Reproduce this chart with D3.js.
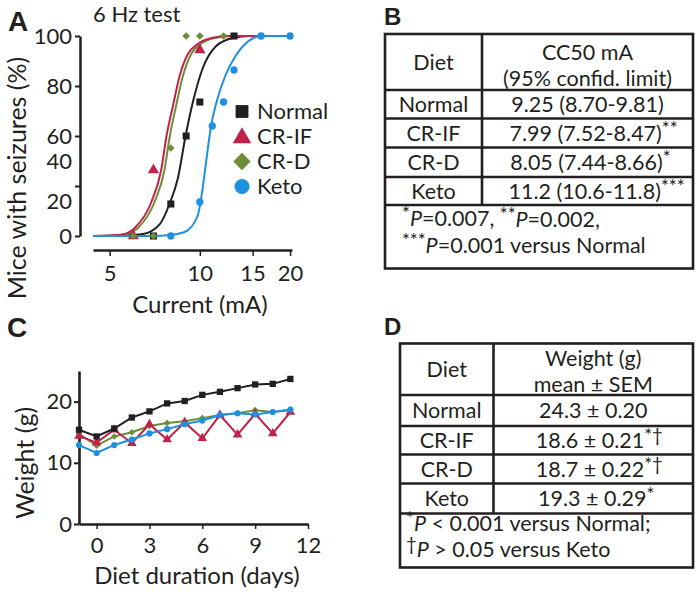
<!DOCTYPE html>
<html><head><meta charset="utf-8">
<script src="https://cdn.jsdelivr.net/npm/d3@7"></script>
<style>
body{margin:0;background:#fff}
svg{display:block}
text{font-family:Lato,"Noto Sans",sans-serif;fill:#231f20}
</style>
</head><body>
<svg id="fig" width="700" height="594"></svg>
<script>
// ---------- DATA ----------
const diets = ["Normal", "CR-IF", "CR-D", "Keto"];
const dietColors = ["#231f20", "#c1224a", "#6b8e36", "#1f8fe0"];
const dietSymbols = ["square", "triangle", "diamond", "circle"];

// Panel A: observed points [current mA, % mice with seizures]
const seizNormal = [[7, 0], [8, 16], [9, 50], [10, 67], [13, 100]];
const seizCRIF = [[6, 0], [7, 33], [10, 93]];
const seizCRD = [[6, 0], [7, 0], [8, 44], [9, 100], [10, 100], [12, 100]];
const seizKeto = [[8, 0], [10, 17], [11, 55], [12, 67], [13, 83], [16, 100], [20, 100]];

// Panel A: fitted curves [mA, %]
const fitNormal = [[4.4, 0], [5.6, 0.3], [6.46, 1], [7.34, 5.8], [7.92, 16], [8.45, 29], [8.96, 50], [9.48, 67], [10.23, 84], [11.34, 95], [12.88, 99], [14.6, 100], [20, 100]];
const fitCRIF = [[4.4, 0], [5.0, 0.2], [5.61, 1], [6.06, 4], [6.89, 17], [7.43, 33], [7.74, 50], [8.13, 65], [8.56, 80], [9.12, 91], [9.83, 96], [10.94, 99], [12.56, 100], [20, 100]];
const fitCRD = [[4.4, 0], [5.2, 0.2], [5.74, 1], [6.21, 4], [7.06, 17], [7.62, 33], [7.94, 50], [8.33, 65], [8.78, 80], [9.35, 91], [10.06, 96], [11.2, 99], [12.9, 100], [20, 100]];
const fitKeto = [[4.4, 0], [7.0, 0], [7.92, 0.5], [8.9, 2], [9.83, 10], [10.13, 20], [10.45, 35], [10.9, 55], [11.37, 67], [12.15, 80], [13.15, 90], [14.4, 97], [16.0, 100], [20, 100]];

const aXTicks = [5, 10, 15, 20];
const aYTickMarks = [0, 25, 50, 75, 100];
const aYTickLabels = ["100", "80", "60", "40", "20", "0"];
const aYTickLabelAt = [100, 75, 50, 37.5, 17.5, 0];   // where each label sits on the value axis

// Panel C: body weight (g) by day
const days = [-1, 0, 1, 2, 3, 4, 5, 6, 7, 8, 9, 10, 11];
const weightNormal = [15.4, 14.3, 15.6, 17.4, 18.4, 19.7, 20.1, 21.1, 21.6, 22.2, 22.8, 22.9, 23.7];
const weightCRIF = [14.4, 13.3, 15.4, 13.2, 16.3, 13.8, 16.6, 14.0, 17.8, 14.6, 18.0, 14.8, 18.3];
const weightCRD = [14.7, 12.8, 14.3, 15.0, 16.0, 16.5, 16.8, 17.3, 17.8, 18.1, 18.6, 18.3, 18.6];
const weightKeto = [12.9, 11.6, 12.9, 13.8, 14.8, 15.5, 16.3, 16.9, 17.8, 18.1, 17.9, 18.3, 18.7];
const cXTicks = [0, 3, 6, 9, 12];
const cYTicks = [0, 10, 20];

// Panel B table
const cc50Value = ["9.25 (8.70-9.81)", "7.99 (7.52-8.47)", "8.05 (7.44-8.66)", "11.2 (10.6-11.8)"];
const cc50Mark = ["", "**", "*", "***"];
// Panel D table
const weightValue = ["24.3 \u00b1 0.20", "18.6 \u00b1 0.21", "18.7 \u00b1 0.22", "19.3 \u00b1 0.29"];
const weightMark = ["", "*\u2020", "*\u2020", "*"];

// ---------- DRAW ----------
const svg = d3.select("#fig");
const INK = "#231f20";
const FS = 22;     // tick labels
const FT = 24;     // axis titles

function sym(type, size) {
  const t = {square: d3.symbolSquare, triangle: d3.symbolTriangle, diamond: d3.symbolSquare, circle: d3.symbolCircle}[type];
  return d3.symbol().type(t).size(size)();
}
function drawMarker(g, type, x, y, size, color) {
  g.append("path").attr("d", sym(type, size))
    .attr("transform", `translate(${x},${y})` + (type === "diamond" ? " rotate(45)" : ""))
    .attr("fill", color);
}
function panelLetter(x, y, s, size) {
  svg.append("text").attr("x", x).attr("y", y).text(s)
    .style("font-family", "'Liberation Sans',Arial,sans-serif").style("font-weight", "bold")
    .style("font-size", size + "px");
}

// ===== Panel A =====
const xA = d3.scaleLog().domain([4.4, 20.3]).range([93, 292]);
const yA = d3.scaleLinear().domain([0, 100]).range([236, 36]);
const gA = svg.append("g");
panelLetter(8, 31, "A", 28);
gA.append("text").attr("x", 93).attr("y", 22).text("6 Hz test").style("font-size", "22px");

// y axis (marks only) + labels
const yAxisA = d3.axisLeft(yA).tickValues(aYTickMarks).tickSize(5).tickSizeOuter(0).tickFormat("");
const gyA = gA.append("g").attr("transform", "translate(80,0)").call(yAxisA);
gyA.select(".domain").attr("stroke", INK).attr("stroke-width", 2.5);
gyA.selectAll(".tick line").attr("stroke", INK).attr("stroke-width", 2);
gA.selectAll("text.ylabA").data(aYTickLabels).enter().append("text")
  .attr("x", 72).attr("y", (d, i) => yA(aYTickLabelAt[i]))
  .attr("dy", "0.36em").attr("text-anchor", "end").style("font-size", FS + "px").text(d => d);

// x axis
const xAxisA = d3.axisBottom(xA).tickValues(aXTicks).tickSize(6).tickSizeOuter(0).tickFormat(d3.format("d"));
const gxA = gA.append("g").attr("transform", "translate(0,250)").call(xAxisA);
gxA.select(".domain").attr("stroke", INK).attr("stroke-width", 2.5);
gxA.selectAll(".tick line").attr("stroke", INK).attr("stroke-width", 1.5);
gxA.selectAll(".tick text").attr("y", 11).attr("dy", "0.9em").style("font-size", FS + "px")
  .style("font-family", "Lato,'Noto Sans',sans-serif").attr("fill", INK);

gA.append("text").attr("x", 200).attr("y", 313).attr("text-anchor", "middle").style("font-size", FT + "px").text("Current (mA)");
gA.append("text").attr("transform", "translate(26,178) rotate(-90)").attr("text-anchor", "middle")
  .style("font-size", "25px").text("Mice with seizures (%)");

const lineA = d3.line().x(d => xA(d[0])).y(d => yA(d[1])).curve(d3.curveMonotoneX);
const fits = [fitNormal, fitCRIF, fitCRD, fitKeto];
[0, 2, 1, 3].forEach(i => {
  gA.append("path").datum(fits[i]).attr("d", lineA).attr("fill", "none")
    .attr("stroke", dietColors[i]).attr("stroke-width", 2);
});
const seiz = [seizNormal, seizCRIF, seizCRD, seizKeto];
const aSizes = [50, 55, 30, 42];
seiz.forEach((pts, i) => {
  pts.forEach(p => drawMarker(gA, dietSymbols[i], xA(p[0]), yA(p[1]), aSizes[i], dietColors[i]));
});

// legend
const legSizes = [165, 150, 150, 180];
const legY = [111.5, 136.5, 161.5, 186.5];
diets.forEach((d, i) => {
  drawMarker(gA, dietSymbols[i], 242, legY[i] + (dietSymbols[i] === "triangle" ? 1.5 : 0), legSizes[i], dietColors[i]);
  gA.append("text").attr("x", 257).attr("y", legY[i]).attr("dy", "0.35em").style("font-size", "22px").text(d);
});

// ===== Panel C =====
const xC = d3.scaleLinear().domain([-1, 12]).range([79, 308]);
const yC = d3.scaleLinear().domain([0, 25]).range([524, 371]);
const gC = svg.append("g");
panelLetter(7, 337, "C", 28);
const gyC = gC.append("g").attr("transform", "translate(79,0)")
  .call(d3.axisLeft(yC).tickValues(cYTicks).tickSize(5).tickSizeOuter(0));
gyC.select(".domain").attr("stroke", INK).attr("stroke-width", 2.6);
gyC.selectAll(".tick line").attr("stroke", INK).attr("stroke-width", 2);
gyC.selectAll(".tick text").attr("x", -7).style("font-size", FS + "px")
  .style("font-family", "Lato,'Noto Sans',sans-serif").attr("fill", INK);
const gxC = gC.append("g").attr("transform", "translate(0,524)")
  .call(d3.axisBottom(xC).tickValues(cXTicks).tickSize(5).tickSizeOuter(0));
gxC.select(".domain").attr("stroke", INK).attr("stroke-width", 2.6);
gxC.selectAll(".tick line").attr("stroke", INK).attr("stroke-width", 1.5);
gxC.selectAll(".tick text").attr("y", 9).attr("dy", "0.9em").style("font-size", FS + "px")
  .style("font-family", "Lato,'Noto Sans',sans-serif").attr("fill", INK);
gC.append("text").attr("x", 197).attr("y", 584).attr("text-anchor", "middle").style("font-size", FT + "px").text("Diet duration (days)");
gC.append("text").attr("transform", "translate(34,463) rotate(-90)").attr("text-anchor", "middle")
  .style("font-size", "25px").text("Weight (g)");

const weights = [weightNormal, weightCRIF, weightCRD, weightKeto];
const lineC = d3.line().x((d, i) => xC(days[i])).y(d => yC(d));
const cSizes = [40, 40, 22, 30];
[2, 1, 3, 0].forEach(i => {
  gC.append("path").datum(weights[i]).attr("d", lineC).attr("fill", "none")
    .attr("stroke", dietColors[i]).attr("stroke-width", 2);
  weights[i].forEach((w, j) => drawMarker(gC, dietSymbols[i], xC(days[j]), yC(w), cSizes[i], dietColors[i]));
});

// ===== Tables =====
function table(opts) {
  const g = svg.append("g");
  const {left, right, div, rows} = opts;
  const sw = 2.6;
  g.append("rect").attr("x", left).attr("y", rows[0]).attr("width", right - left)
    .attr("height", rows[rows.length - 1] - rows[0]).attr("fill", "none").attr("stroke", INK).attr("stroke-width", sw);
  rows.slice(1, -1).forEach(y => g.append("line").attr("x1", left).attr("x2", right).attr("y1", y).attr("y2", y)
    .attr("stroke", INK).attr("stroke-width", sw));
  g.append("line").attr("x1", div).attr("x2", div).attr("y1", rows[0]).attr("y2", rows[rows.length - 2])
    .attr("stroke", INK).attr("stroke-width", sw);
  const cL = (left + div) / 2, cR = (div + right) / 2;
  g.append("text").attr("x", cL).attr("y", (rows[0] + rows[1]) / 2).attr("dy", "0.36em")
    .attr("text-anchor", "middle").style("font-size", opts.fs + "px").text("Diet");
  opts.head.forEach((h, k) => g.append("text").attr("x", cR).attr("y", opts.headY[k]).attr("dy", "0.36em")
    .attr("text-anchor", "middle").style("font-size", opts.fs + "px").text(h));
  diets.forEach((d, i) => {
    const yc = (rows[i + 1] + rows[i + 2]) / 2;
    g.append("text").attr("x", cL).attr("y", yc).attr("dy", "0.36em").attr("text-anchor", "middle")
      .style("font-size", opts.fs + "px").text(d);
    const t = g.append("text").attr("x", cR + (opts.marks[i] ? opts.markShift * opts.marks[i].length : 0))
      .attr("y", yc).attr("dy", "0.36em").attr("text-anchor", "middle").style("font-size", opts.fs + "px");
    t.append("tspan").text(opts.values[i]);
    if (opts.marks[i]) t.append("tspan").attr("dy", "-0.3em").style("font-size", (opts.fs - 3) + "px").text(opts.marks[i]);
  });
  opts.foot.forEach((line, k) => {
    const t = g.append("text").attr("x", opts.footX).attr("y", opts.footY[k]).attr("dy", "0.36em").style("font-size", opts.fs + "px");
    line.forEach(seg => {
      const s = t.append("tspan").text(seg.t);
      if (seg.sup) s.attr("dy", "-0.25em").style("font-size", (opts.fs - 3) + "px");
      if (seg.down) s.attr("dy", "0.25em");
      if (seg.it) s.style("font-style", "italic");
    });
  });
}

panelLetter(384, 25, "B", 24);
table({
  left: 385, right: 693, div: 482, rows: [34, 90, 118.5, 147.5, 177, 205, 268.5], fs: 21.5,
  head: ["CC50 mA", "(95% confid. limit)"], headY: [52, 78],
  values: cc50Value, marks: cc50Mark, markShift: 3,
  footX: 402, footY: [225, 252],
  foot: [
    [{t: "*", sup: 1}, {t: "P", it: 1, down: 1}, {t: "=0.007, "}, {t: "**", sup: 1}, {t: "P", it: 1, down: 1}, {t: "=0.002,"}],
    [{t: "***", sup: 1}, {t: "P", it: 1, down: 1}, {t: "=0.001 versus Normal"}]
  ]
});

panelLetter(384, 335, "D", 24);
table({
  left: 400, right: 693, div: 493.5, rows: [343.5, 395, 426, 454.5, 483.5, 513.5, 567.5], fs: 21.5,
  head: ["Weight (g)", "mean \u00b1 SEM"], headY: [358, 384],
  values: weightValue, marks: weightMark, markShift: 3,
  footX: 406, footY: [530, 556],
  foot: [
    [{t: "*", sup: 1}, {t: "P", it: 1, down: 1}, {t: " < 0.001 versus Normal;"}],
    [{t: "\u2020", sup: 1}, {t: "P", it: 1, down: 1}, {t: " > 0.05 versus Keto"}]
  ]
});
</script>
</body></html>
